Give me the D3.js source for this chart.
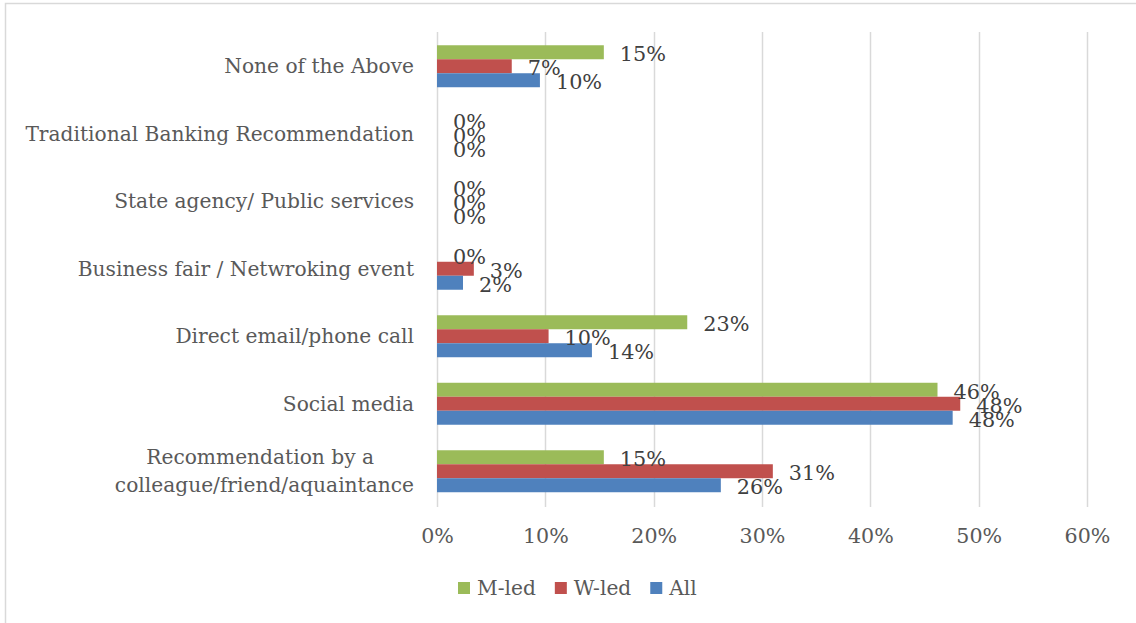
<!DOCTYPE html>
<html>
<head>
<meta charset="utf-8">
<script src="https://cdn.jsdelivr.net/npm/d3@7"></script>
<style>
  html, body { margin: 0; padding: 0; background: #fff; }
  svg { display: block; }
  text { font-family: "DejaVu Serif", serif; }
</style>
</head>
<body>
<svg id="chart" width="1136" height="623"></svg>
<script>
// Categories listed bottom to top
const categories = [
  "Recommendation by a colleague/friend/aquaintance",
  "Social media",
  "Direct email/phone call",
  "Business fair / Netwroking event",
  "State agency/ Public services",
  "Traditional Banking Recommendation",
  "None of the Above"
];
const seriesNames = ["M-led", "W-led", "All"];
const mLed = [15.4, 46.2, 23.1, 0, 0, 0, 15.4];
const wLed = [31.0, 48.3, 10.3, 3.4, 0, 0, 6.9];
const all  = [26.2, 47.6, 14.3, 2.4, 0, 0, 9.5];
const xTicks = [0, 10, 20, 30, 40, 50, 60];
const colors = { "M-led": "#9BBB59", "W-led": "#C0504D", "All": "#4F81BD" };

const seriesValues = { "M-led": mLed, "W-led": wLed, "All": all };

const svg = d3.select("#chart");

// outer frame
svg.append("rect")
  .attr("x", 5.5).attr("y", 3.5)
  .attr("width", 1140).attr("height", 640)
  .attr("fill", "none").attr("stroke", "#D9D9D9").attr("stroke-width", 1.5);

const x = d3.scaleLinear().domain([0, 60]).range([437, 1087]);
const y = d3.scaleBand().domain(categories).range([505, 32.5])
  .paddingInner(0.378).paddingOuter(0.189);
const ySub = d3.scaleBand().domain(seriesNames).range([0, y.bandwidth()]);

// gridlines
svg.append("g").selectAll("line").data(xTicks).join("line")
  .attr("x1", d => Math.round(x(d)) + 0.5).attr("x2", d => Math.round(x(d)) + 0.5)
  .attr("y1", 32).attr("y2", 507)
  .attr("stroke", "#D9D9D9").attr("stroke-width", 1.5);

// value axis labels
const xAxis = d3.axisBottom(x).tickValues(xTicks).tickFormat(d => d + "%").tickSize(0).tickPadding(0);
const gx = svg.append("g").attr("transform", "translate(0,536)").call(xAxis);
gx.select(".domain").remove();
gx.selectAll("text")
  .attr("y", 0)
  .attr("dy", "0.35em")
  .attr("fill", "#595959")
  .style("font-family", "'DejaVu Serif', serif")
  .style("font-size", "20.6px");

// category labels, wrapped where needed (second number = right edge of the line)
const catLines = {
  "Recommendation by a colleague/friend/aquaintance": [["Recommendation by a", 374], ["colleague/friend/aquaintance", 414]]
};
const gy = svg.append("g");
categories.forEach(c => {
  const lines = catLines[c] || [[c, 414]];
  const cy = y(c) + y.bandwidth() / 2;
  const lh = 28;
  const t = gy.append("text")
    .attr("text-anchor", "end")
    .attr("fill", "#595959")
    .style("font-size", "20.2px");
  lines.forEach(([ln, xr], i) => {
    t.append("tspan")
      .attr("x", xr)
      .attr("y", cy + (i - (lines.length - 1) / 2) * lh)
      .attr("dy", "0.35em")
      .text(ln);
  });
});

// bars
const rows = [];
categories.forEach((c, i) => {
  seriesNames.forEach(s => rows.push({ cat: c, series: s, value: seriesValues[s][i] }));
});

svg.append("g").selectAll("rect").data(rows).join("rect")
  .attr("x", x(0))
  .attr("y", d => y(d.cat) + ySub(d.series))
  .attr("width", d => x(d.value) - x(0))
  .attr("height", ySub.bandwidth())
  .attr("fill", d => colors[d.series]);

// data labels
svg.append("g").selectAll("text").data(rows).join("text")
  .attr("x", d => x(d.value) + 16)
  .attr("y", d => y(d.cat) + ySub(d.series) + ySub.bandwidth() / 2 + 1.5)
  .attr("dy", "0.35em")
  .attr("fill", "#404040")
  .style("font-size", "20.8px")
  .text(d => Math.round(d.value) + "%");

// legend, laid out left to right
const legend = svg.append("g");
let lx = 458;
seriesNames.forEach(s => {
  legend.append("rect")
    .attr("x", lx).attr("y", 582)
    .attr("width", 12).attr("height", 12)
    .attr("fill", colors[s]);
  const t = legend.append("text")
    .attr("x", lx + 19).attr("y", 587.5)
    .attr("dy", "0.35em")
    .attr("fill", "#595959")
    .style("font-size", "20.2px")
    .text(s);
  lx += 19 + t.node().getComputedTextLength() + 19;
});
</script>
</body>
</html>
